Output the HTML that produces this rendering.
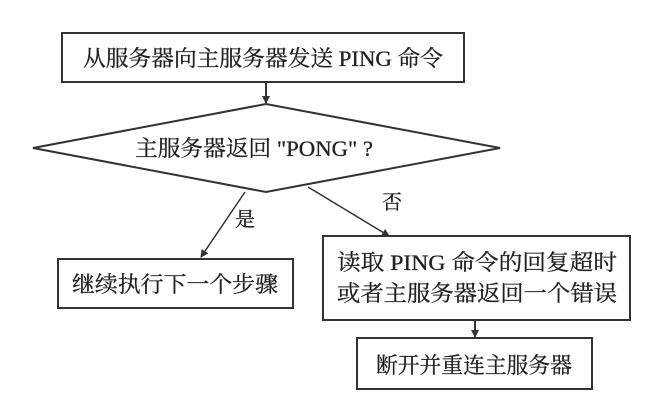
<!DOCTYPE html>
<html><head><meta charset="utf-8"><style>
html,body{margin:0;padding:0;background:#fff;}
svg{display:block;}
text{font-family:"Liberation Serif","Noto Serif CJK SC",serif;font-size:22px;fill:#222;stroke:#222;stroke-width:0.3px;}
</style></head><body>
<svg width="654" height="400" viewBox="0 0 654 400" xmlns="http://www.w3.org/2000/svg">
<defs><marker id="a" markerWidth="8" markerHeight="8" refX="7" refY="4" orient="auto" markerUnits="userSpaceOnUse"><path d="M0,0 L8,4 L0,8 z" fill="#333"/></marker></defs>
<g stroke="#333" stroke-width="2" fill="none">
<rect x="62" y="33" width="402" height="49"/>
<line x1="266" y1="82" x2="266" y2="103" marker-end="url(#a)"/>
<polygon points="33,148 266,104 500,148 266,192"/>
<line x1="245" y1="192" x2="201" y2="257" marker-end="url(#a)" stroke-width="1.5"/>
<line x1="308" y1="187" x2="389" y2="236" marker-end="url(#a)" stroke-width="1.5"/>
<rect x="58" y="259" width="235" height="49"/>
<rect x="323" y="236" width="307" height="84"/>
<line x1="475" y1="320" x2="475" y2="337" marker-end="url(#a)"/>
<rect x="357" y="338" width="235" height="51"/>
</g>
<text x="263" y="66" text-anchor="middle" textLength="360" lengthAdjust="spacingAndGlyphs">从服务器向主服务器发送 PING 命令</text>
<text x="254" y="156" text-anchor="middle" textLength="238" lengthAdjust="spacingAndGlyphs">主服务器返回 "PONG" ?</text>
<text x="245" y="226" text-anchor="middle" style="font-size:20px">是</text>
<text x="392" y="209" text-anchor="middle" style="font-size:20px">否</text>
<text x="175" y="292" text-anchor="middle" textLength="206" lengthAdjust="spacingAndGlyphs">继续执行下一个步骤</text>
<text x="477" y="270" text-anchor="middle" textLength="280" lengthAdjust="spacingAndGlyphs">读取 PING 命令的回复超时</text>
<text x="477" y="301" text-anchor="middle" textLength="280" lengthAdjust="spacingAndGlyphs">或者主服务器返回一个错误</text>
<text x="474" y="373" text-anchor="middle" textLength="196" lengthAdjust="spacingAndGlyphs">断开并重连主服务器</text>
</svg>
</body></html>
